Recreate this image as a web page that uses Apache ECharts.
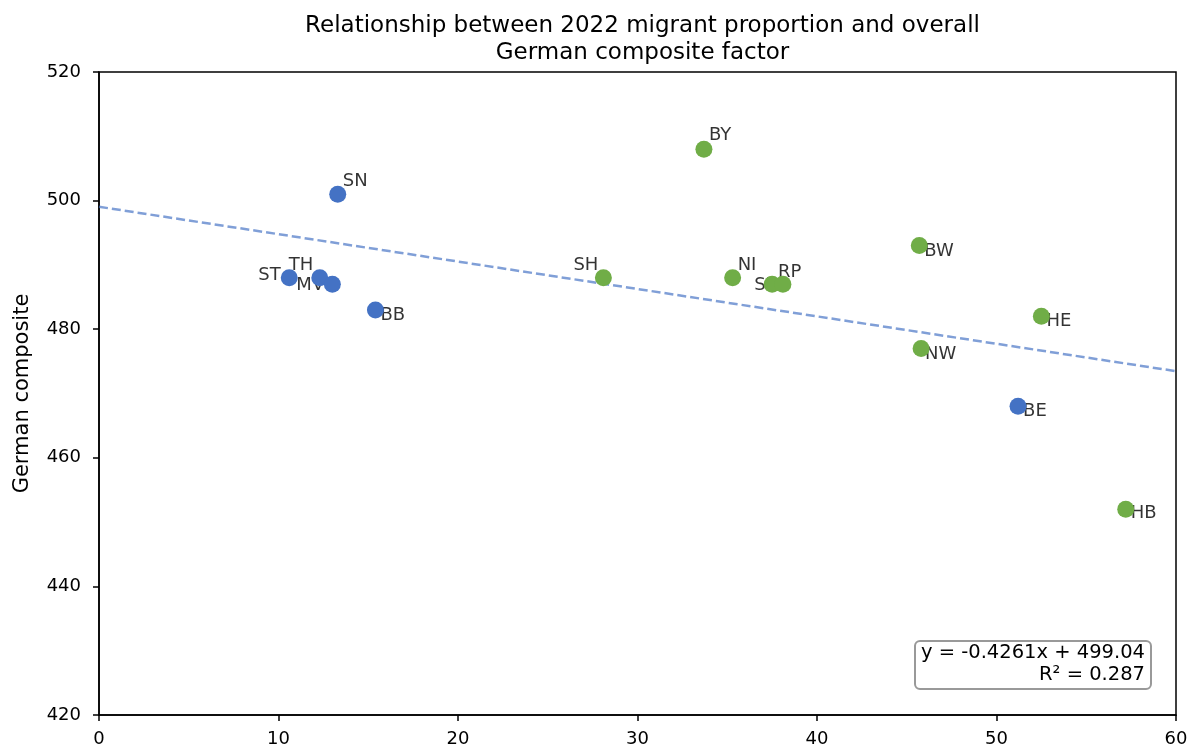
<!DOCTYPE html>
<html>
<head>
<meta charset="utf-8">
<script src="https://cdn.jsdelivr.net/npm/echarts@6/dist/echarts.min.js"></script>
<style>
  html, body { margin: 0; padding: 0; background: #fff; }
  #chart { width: 1194px; height: 749px; }
</style>
</head>
<body>
<div id="chart"></div>
<script>
// ---- data ----
const states       = ['ST', 'TH', 'MV', 'SN', 'BB', 'BE', 'SH', 'BY', 'NI', 'SL', 'RP', 'BW', 'NW', 'HE', 'HB'];
const migrantShare = [10.6, 12.3, 13.0, 13.3, 15.4, 51.2, 28.1, 33.7, 35.3, 37.5, 38.1, 45.7, 45.8, 52.5, 57.2];
const composite    = [488, 488, 487, 501, 483, 468, 488, 508, 488, 487, 487, 493, 477, 482, 452];
const isEast       = [true, true, true, true, true, true, false, false, false, false, false, false, false, false, false];
const trendX       = [0, 60];
const trendY       = [499.04, 473.47];
const xTicks       = [0, 10, 20, 30, 40, 50, 60];
const yTicks       = [420, 440, 460, 480, 500, 520];
const fitLines     = ['y = -0.4261x + 499.04', 'R² = 0.287'];

// ---- label layout (pixel offsets of label from point centre) ----
const labelOffsets = {
  ST: [-31, -2], TH: [-31, -12], MV: [-36, 1], SN: [5, -13], BB: [5, 5],
  BE: [5, 5], SH: [-30, -12], BY: [5, -14], NI: [5, -12], SL: [-18, 1],
  RP: [-5, -12], BW: [5, 6], NW: [4, 6], HE: [5, 5], HB: [5, 4]
};

const SYM = 17;
const BLUE = '#4472C4';
const GREEN = '#70AD47';
const FONT = 'DejaVu Sans';

const pointData = states.map((s, i) => ({
  name: s,
  value: [migrantShare[i], composite[i]],
  itemStyle: { color: isEast[i] ? BLUE : GREEN, opacity: 1 }
}));

const labelData = states.map((s, i) => ({
  name: s,
  value: [migrantShare[i], composite[i]],
  label: {
    show: true,
    position: [labelOffsets[s][0] + SYM / 2, labelOffsets[s][1] + SYM / 2],
    align: 'left',
    verticalAlign: 'middle',
    formatter: s,
    color: '#000',
    fontSize: 18,
    fontFamily: FONT
  }
}));

const chart = echarts.init(document.getElementById('chart'));
chart.setOption({
  animation: false,
  backgroundColor: '#fff',
  textStyle: { fontFamily: FONT },
  title: {
    text: 'Relationship between 2022 migrant proportion and overall\nGerman composite factor',
    left: 637.5,
    textAlign: 'center',
    top: 8,
    textStyle: { fontSize: 23, fontWeight: 'normal', color: '#000', lineHeight: 27, fontFamily: FONT }
  },
  grid: { left: 99, right: 18, top: 72, bottom: 34, show: true, borderColor: '#000', borderWidth: 1.5, backgroundColor: 'transparent' },
  xAxis: {
    type: 'value',
    min: xTicks[0], max: xTicks[xTicks.length - 1], interval: 10,
    axisLine: { show: true, onZero: false, lineStyle: { color: '#000', width: 1.5 } },
    axisTick: { show: true, inside: false, length: 6, lineStyle: { color: '#000', width: 1.5 } },
    axisLabel: { color: '#000', fontSize: 18, margin: 15, fontFamily: FONT },
    splitLine: { show: false }
  },
  yAxis: {
    type: 'value',
    min: yTicks[0], max: yTicks[yTicks.length - 1], interval: 20,
    name: 'German composite',
    nameLocation: 'middle',
    nameGap: 66,
    nameTextStyle: { color: '#000', fontSize: 21, fontFamily: FONT },
    axisLine: { show: true, onZero: false, lineStyle: { color: '#000', width: 1.5 } },
    axisTick: { show: true, inside: false, length: 6, lineStyle: { color: '#000', width: 1.5 } },
    axisLabel: { color: '#000', fontSize: 18, margin: 18, fontFamily: FONT },
    splitLine: { show: false }
  },
  series: [
    {
      type: 'line',
      z: 1,
      data: trendX.map((x, i) => [x, trendY[i]]),
      symbol: 'none',
      lineStyle: { color: 'rgba(68,114,196,0.68)', width: 2.5, type: [9, 4] },
      silent: true
    },
    {
      type: 'scatter',
      z: 2,
      symbolSize: SYM,
      itemStyle: { color: 'rgba(0,0,0,0)' },
      data: labelData,
      silent: true
    },
    {
      type: 'scatter',
      z: 3,
      symbolSize: SYM,
      itemStyle: { opacity: 1 },
      data: pointData,
      label: { show: false }
    }
  ],
  graphic: [
    {
      type: 'group',
      left: 914,
      top: 640,
      z: 100,
      children: [
        {
          type: 'rect',
          shape: { x: 0, y: 0, width: 236, height: 48, r: 5 },
          style: { fill: '#fff', stroke: '#999', lineWidth: 2 }
        },
        {
          type: 'text',
          x: 230, y: 12,
          style: { text: fitLines[0], align: 'right', verticalAlign: 'middle', fill: '#000', font: '19.5px "DejaVu Sans"' }
        },
        {
          type: 'text',
          x: 230, y: 34,
          style: { text: fitLines[1], align: 'right', verticalAlign: 'middle', fill: '#000', font: '19.5px "DejaVu Sans"' }
        }
      ]
    }
  ]
});
</script>
</body>
</html>
